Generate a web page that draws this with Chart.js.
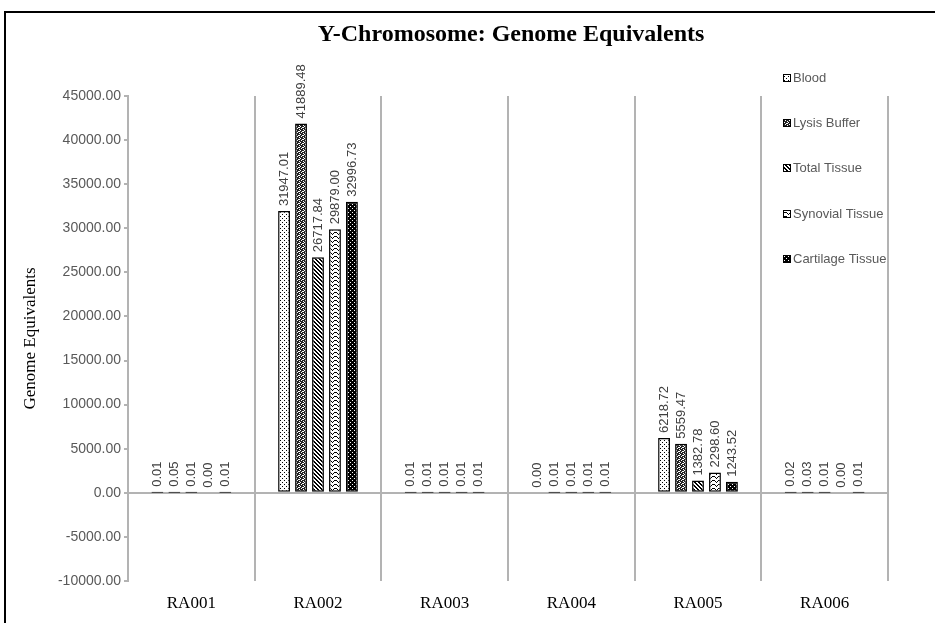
<!DOCTYPE html>
<html>
<head>
<meta charset="utf-8">
<script src="https://cdn.jsdelivr.net/npm/chart.js@4.4.0/dist/chart.umd.min.js"></script>
<style>
html, body { margin: 0; padding: 0; background: #fff; }
#wrap { position: relative; width: 935px; height: 623px; }
</style>
</head>
<body>
<div id="wrap"><canvas id="geChart"></canvas></div>
<script>
// patients on the x axis
const patients = ["RA001", "RA002", "RA003", "RA004", "RA005", "RA006"];
const sampleNames = ["Blood", "Lysis Buffer", "Total Tissue", "Synovial Tissue", "Cartilage Tissue"];

// genome equivalents per sample type
const blood = [0.01, 31947.01, 0.01, 0.00, 6218.72, 0.02];
const lysisBuffer = [0.05, 41889.48, 0.01, 0.01, 5559.47, 0.03];
const totalTissue = [0.01, 26717.84, 0.01, 0.01, 1382.78, 0.01];
const synovialTissue = [0.00, 29879.00, 0.01, 0.01, 2298.60, 0.00];
const cartilageTissue = [0.01, 32996.73, 0.01, 0.01, 1243.52, 0.01];

// y axis range
const yMin = -10000;
const yMax = 45000;
const yStep = 5000;

const chartTitle = 'Y-Chromosome: Genome Equivalents';
const GRID = '#b3b3b3';
const SERIF = '"Liberation Serif", "Times New Roman", serif';
const SANS = '"Liberation Sans", Arial, sans-serif';

function makePattern(w, h, paint) {
    const c = document.createElement('canvas');
    c.width = w; c.height = h;
    const p = c.getContext('2d');
    p.fillStyle = '#fff';
    p.fillRect(0, 0, w, h);
    p.fillStyle = '#000';
    paint(p);
    return document.createElement('canvas').getContext('2d').createPattern(c, 'repeat');
}

// hatch fills, roughly like the office patterns in the picture
const fills = [
    makePattern(4, 4, p => { p.fillRect(0, 0, 1, 1); p.fillRect(2, 2, 1, 1); }),
    makePattern(4, 4, p => {
        p.fillStyle = '#222'; p.fillRect(0, 0, 4, 4);
        p.fillStyle = '#fff'; p.fillRect(1, 0, 1, 1); p.fillRect(3, 1, 1, 1); p.fillRect(0, 2, 1, 1); p.fillRect(2, 3, 1, 1); p.fillRect(3, 3, 1, 1);
    }),
    makePattern(4, 4, p => {
        for (let i = 0; i < 4; i++) { p.fillRect(i, i, 2, 1); }
        p.fillRect(0, 3, 1, 1);
    }),
    makePattern(6, 4, p => {
        p.fillRect(0, 0, 1, 1); p.fillRect(1, 1, 1, 1); p.fillRect(2, 2, 1, 1); p.fillRect(3, 1, 1, 1); p.fillRect(4, 0, 1, 1);
        p.fillRect(5, 0, 1, 1);
    }),
    makePattern(4, 4, p => {
        p.fillRect(0, 0, 4, 4);
        p.fillStyle = '#fff'; p.fillRect(0, 0, 1, 1); p.fillRect(2, 2, 1, 1);
    })
];

const seriesValues = [blood, lysisBuffer, totalTissue, synovialTissue, cartilageTissue];

// outer frame and title (title sits right of centre in the original)
const frame = {
    id: 'frame',
    beforeDraw(chart) {
        const ctx = chart.ctx;
        ctx.save();
        ctx.fillStyle = '#fff';
        ctx.fillRect(0, 0, chart.width, chart.height);
        ctx.strokeStyle = '#000';
        ctx.lineWidth = 2;
        ctx.strokeRect(5, 12, chart.width + 20, chart.height + 20);
        ctx.restore();
    },
    afterDraw(chart) {
        const ctx = chart.ctx;
        ctx.save();
        ctx.font = 'bold 24px ' + SERIF;
        ctx.fillStyle = '#000';
        ctx.textAlign = 'center';
        ctx.textBaseline = 'middle';
        ctx.fillText(chartTitle, 511, 35);
        ctx.restore();
    }
};

const barLabels = {
    id: 'barLabels',
    afterDatasetsDraw(chart) {
        const ctx = chart.ctx;
        ctx.save();
        ctx.font = '13px ' + SANS;
        ctx.fillStyle = '#404040';
        ctx.textAlign = 'left';
        ctx.textBaseline = 'middle';
        chart.data.datasets.forEach((ds, i) => {
            chart.getDatasetMeta(i).data.forEach((bar, j) => {
                ctx.save();
                ctx.translate(bar.x, Math.min(bar.y, bar.base) - 5);
                ctx.rotate(-Math.PI / 2);
                ctx.fillText(ds.data[j].toFixed(2), 0, 0);
                ctx.restore();
            });
        });
        ctx.restore();
    }
};

const sideLegend = {
    id: 'sideLegend',
    afterDraw(chart) {
        const ctx = chart.ctx;
        const x = chart.chartArea.right - 105;
        const y0 = chart.chartArea.top - 18;
        ctx.save();
        ctx.font = '13px ' + SANS;
        ctx.textBaseline = 'middle';
        ctx.textAlign = 'left';
        chart.data.datasets.forEach((ds, i) => {
            const y = Math.round(y0 + i * 45.2);
            ctx.fillStyle = ds.backgroundColor;
            ctx.fillRect(x, y - 4, 8, 8);
            ctx.strokeStyle = '#000';
            ctx.lineWidth = 1;
            ctx.strokeRect(x + 0.5, y - 3.5, 7, 7);
            ctx.fillStyle = '#595959';
            ctx.fillText(ds.label, x + 10, y);
        });
        ctx.restore();
    }
};

new Chart(document.getElementById('geChart'), {
    type: 'bar',
    data: {
        labels: patients,
        datasets: sampleNames.map((name, i) => ({
            label: name,
            data: seriesValues[i],
            backgroundColor: fills[i],
            borderColor: '#000',
            borderWidth: 1.5,
            borderSkipped: false,
            categoryPercentage: 0.67,
            barPercentage: 0.7
        }))
    },
    options: {
        responsive: true,
        maintainAspectRatio: false,
        animation: false,
        layout: { padding: { left: 0, right: 47, top: 96, bottom: 0 } },
        plugins: {
            legend: { display: false },
            tooltip: { enabled: false },
            title: { display: false }
        },
        scales: {
            x: {
                grid: { color: GRID, lineWidth: 2, offset: true, drawTicks: false },
                border: { display: false },
                ticks: {
                    color: '#000',
                    padding: 12,
                    font: { family: SERIF, size: 17 }
                },
                afterFit: scale => { scale.height = 42; }
            },
            y: {
                min: yMin,
                max: yMax,
                ticks: {
                    stepSize: yStep,
                    color: '#595959',
                    padding: 3,
                    font: { family: SANS, size: 14 },
                    callback: v => Number(v).toFixed(2)
                },
                grid: {
                    color: c => (c.tick && c.tick.value === 0) ? GRID : 'rgba(0,0,0,0)',
                    lineWidth: 2,
                    tickColor: GRID,
                    tickLength: 4
                },
                border: { color: GRID, width: 2 },
                title: {
                    display: true,
                    text: 'Genome Equivalents',
                    color: '#000',
                    padding: { top: 20, bottom: 0 },
                    font: { family: SERIF, size: 17 }
                },
                afterFit: scale => { scale.width = 128; }
            }
        }
    },
    plugins: [frame, barLabels, sideLegend]
});
</script>
</body>
</html>
